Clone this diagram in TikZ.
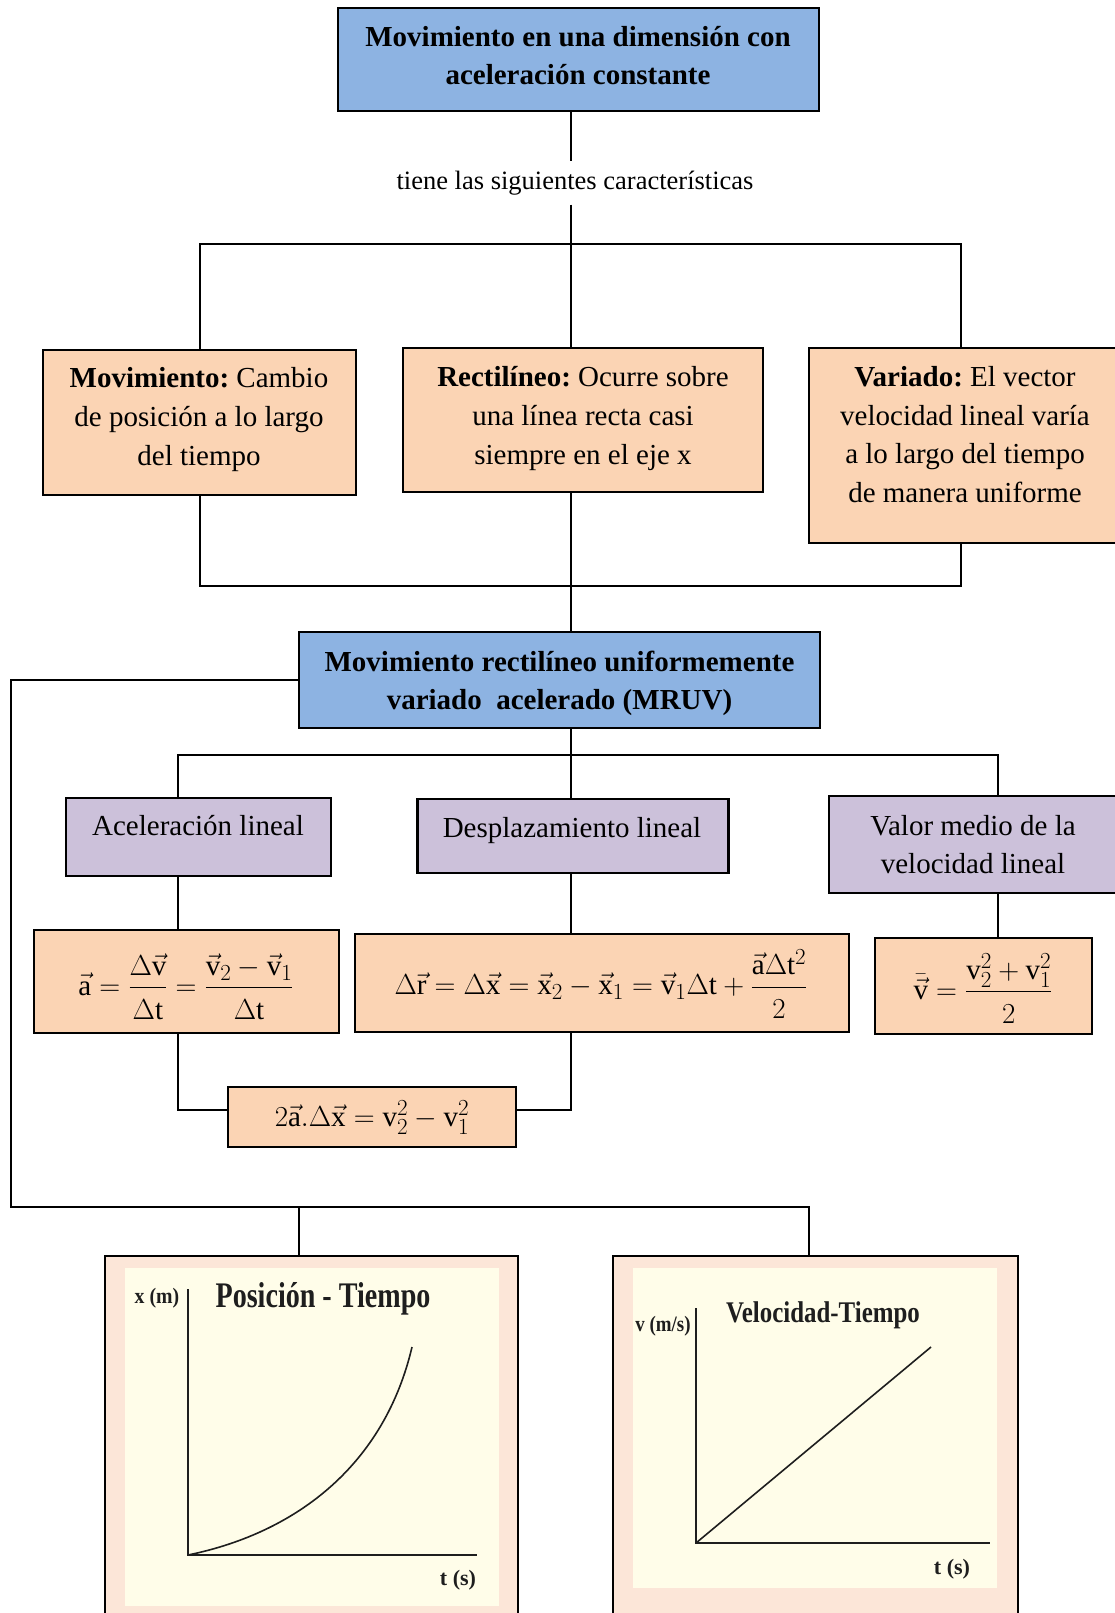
\RequirePackage{fix-cm}
\documentclass[tikz,border=0pt]{standalone}
\usepackage{amsmath}
\usepackage{fontspec}
\setmainfont{Liberation Serif}
\usepackage{graphicx}
\usetikzlibrary{calc}
\frenchspacing
\DeclareMathSizes{29}{29}{23}{17}

\definecolor{boxblue}{HTML}{8DB3E2}
\definecolor{peach}{HTML}{FBD4B4}
\definecolor{lav}{HTML}{CCC1DA}
\definecolor{graphpink}{HTML}{FCE6D8}
\definecolor{cream}{HTML}{FFFDE9}
\definecolor{ink}{HTML}{1E1E1E}

% upright vector letter, and a denominator pushed a little lower
\newcommand{\vv}[1]{\vec{\mathrm{#1}}}
\newcommand{\dnm}[1]{\rule{0pt}{28pt}#1}

\tikzset{
  sz/.style 2 args={minimum width=#1pt, minimum height=#2pt},
  box/.style={draw=black, line width=2.6pt, inner sep=0pt},
  bluebox/.style={box, fill=boxblue},
  peachbox/.style={box, fill=peach},
  lavbox/.style={box, fill=lav},
  graphbox/.style={box, fill=graphpink},
  txt/.style={align=center, inner sep=0pt, font=\fontsize{29}{38.6}\selectfont},
  mathtxt/.style={inner sep=0pt, anchor=base, font=\fontsize{29}{35}\selectfont},
  gtxt/.style={inner sep=0pt, text=ink, font=\fontsize{22}{26}\selectfont\bfseries},
  conn/.style={draw=black, line width=2pt},
  axis/.style={draw=ink, line width=1.6pt},
}

\begin{document}
\begin{tikzpicture}[x=1pt, y=-1pt]
\useasboundingbox (0,0) rectangle (1115,1613);

% ---- title and first level ----
\node[bluebox, sz={481}{103}] (top) at (578.5,59.5) {};
\node[txt, font=\fontsize{29}{38.6}\selectfont\bfseries] (top-t) at (578,55.5)
  {Movimiento en una dimensión con\\aceleración constante};
\node[inner sep=0pt, sz={10}{43}, font=\fontsize{26.5}{32}\selectfont] (tiene) at (575,183)
  {tiene las siguientes características};

\node[peachbox, sz={313}{145}] (mov) at (199.5,422.5) {};
\node[txt] (mov-t) at (199,419.5)
  {\textbf{Movimiento:} Cambio\\de posición a lo largo\\del tiempo};
\node[peachbox, sz={360}{144}] (rect) at (583,420) {};
\node[txt] (rect-t) at (583,418.5)
  {\textbf{Rectilíneo:} Ocurre sobre\\una línea recta casi\\siempre en el eje x};
\node[peachbox, sz={316}{195}] (var) at (967,445.5) {};
\node[txt] (var-t) at (965,434.6)
  {\textbf{Variado:} El vector\\velocidad lineal varía\\a lo largo del tiempo\\de manera uniforme};

% ---- MRUV ----
\node[bluebox, sz={521}{96}] (mruv) at (559.5,680) {};
\node[txt, font=\fontsize{29}{38.6}\selectfont\bfseries] (mruv-t) at (559.5,683.5)
  {Movimiento rectilíneo uniformemente\\variado\ \ acelerado (MRUV)};

\node[lavbox, sz={265}{78}] (acc) at (198.5,837) {};
\node[txt] (acc-t) at (198,826) {Aceleración lineal};
\node[lavbox, sz={311.5}{74}] (des) at (573,836) {};
\node[txt] (des-t) at (572,831) {Desplazamiento lineal};
\node[lavbox, sz={296}{97}] (val) at (977,844.5) {};
\node[txt] (val-t) at (973,844.5) {Valor medio de la\\velocidad lineal};

% ---- formulas ----
\node[peachbox, sz={305}{103}] (fa) at (186.5,981.5) {};
\node[mathtxt] (fa-t) at (186,995)
  {$\displaystyle \vv{a} = \frac{\Delta\vv{v}}{\dnm{\Delta\mathrm{t}}} = \frac{\vv{v}_2 - \vv{v}_1}{\dnm{\Delta\mathrm{t}}}$};
\node[peachbox, sz={494}{98}] (fr) at (602,983) {};
\node[mathtxt] (fr-t) at (601,994.5)
  {$\displaystyle \Delta\vv{r} = \Delta\vv{x} = \vv{x}_2 - \vv{x}_1 = \vv{v}_1\Delta\mathrm{t} + \frac{\vv{a}\Delta\mathrm{t}^2}{\dnm{2}}$};
\node[peachbox, sz={217}{96}] (fv) at (983.5,986) {};
\node[mathtxt] (fv-t) at (983,999)
  {$\displaystyle \bar{\vv{v}} = \frac{\mathrm{v}_2^2 + \mathrm{v}_1^2}{\dnm{2}}$};
\node[peachbox, sz={288}{60}] (f2) at (372,1117) {};
\node[mathtxt] (f2-t) at (372,1126.5)
  {$2\vv{a}.\Delta\vv{x} = \mathrm{v}_2^2 - \mathrm{v}_1^2$};

% ---- graph panels ----
\node[graphbox, sz={413}{380}] (gpos) at (311.5,1446) {};
\node[graphbox, sz={405}{380}] (gvt) at (815.5,1446) {};

% ---- connectors ----
\coordinate (j1) at (571,244);
\coordinate (j2) at (571,586);
\coordinate (j3) at (571,755);
\coordinate (jL) at (178,755);
\coordinate (jR) at (998,755);
\coordinate (k1) at (178,1110);
\coordinate (k2) at (571,1110);
\coordinate (cL) at (11,1207);
\coordinate (g1) at (299,1207);
\coordinate (g2) at (809,1207);

\draw[conn] (j1 |- top.south) -- (j1 |- tiene.north);
\draw[conn] (j1 |- tiene.south) -- (j1);
\draw[conn] (mov.north) |- (j1) -| ([xshift=-6pt]var.north);
\draw[conn] (j1) -- (j1 |- rect.north);
\draw[conn] (mov.south) |- (j2) -| ([xshift=-6pt]var.south);
\draw[conn] (j1 |- rect.south) -- (j2) -- (j2 |- mruv.north);

\draw[conn] (j2 |- mruv.south) -- (j3);
\draw[conn] (jL |- acc.north) -- (jL) -- (jR) -- (jR |- val.north);
\draw[conn] (j3) -- (j3 |- des.north);
\draw[conn] (jL |- acc.south) -- (jL |- fa.north);
\draw[conn] (j3 |- des.south) -- (j3 |- fr.north);
\draw[conn] (jR |- val.south) -- (jR |- fv.north);
\draw[conn] (k1 |- fa.south) -- (k1) -- (k1 -| f2.west);
\draw[conn] (k2 |- fr.south) -- (k2) -- (k2 -| f2.east);

\draw[conn] (mruv.west) -| (cL) -- (g2) -- (g2 |- gvt.north);
\draw[conn] (g1) -- (g1 |- gpos.north);

% ---- position-time graph ----
\fill[cream] (125,1268) rectangle (499,1606);
\draw[axis] (188,1289) -- (188,1555) -- (477,1555);
\draw[axis] (188,1555) .. controls (300,1532) and (385,1462) .. (412,1347);
\node[gtxt] (xm) at (157,1298) {\scalebox{0.9}[1]{x (m)}};
\node[inner sep=0pt, text=ink, font=\fontsize{36}{40}\selectfont\bfseries] (ptitle) at (323,1299)
  {\scalebox{0.78}[1]{Posición - Tiempo}};
\node[gtxt] (ts1) at (458,1580) {t (s)};

% ---- velocity-time graph ----
\fill[cream] (633,1268) rectangle (997,1588);
\draw[axis] (696,1308) -- (696,1543) -- (990,1543);
\draw[axis] (696,1543) -- (931,1347);
\node[gtxt] (vms) at (663,1326) {\scalebox{0.86}[1]{v (m/s)}};
\node[inner sep=0pt, text=ink, font=\fontsize{30}{34}\selectfont\bfseries] (vtitle) at (823,1315)
  {\scalebox{0.83}[1]{Velocidad-Tiempo}};
\node[gtxt] (ts2) at (952,1569) {t (s)};
\end{tikzpicture}
\end{document}
